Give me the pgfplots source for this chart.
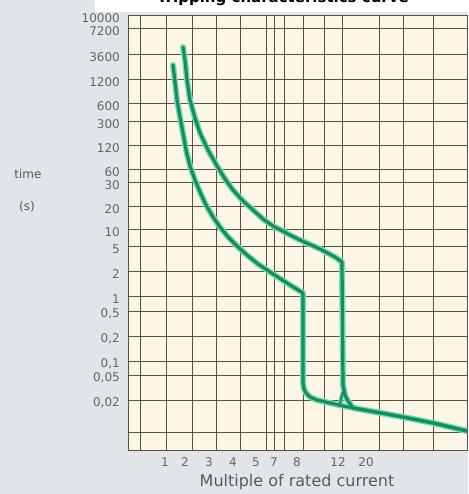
\documentclass[border=0pt]{standalone}
\usepackage{fontspec}
\setmainfont{DejaVu Sans}
\usepackage{pgfplots}
\usepackage{pgfplotstable}
\pgfplotsset{compat=1.18}
\definecolor{outerbg}{RGB}{226,229,232}
\definecolor{cream}{RGB}{251,246,230}
\definecolor{gridc}{RGB}{92,80,64}
\definecolor{curvec}{RGB}{22,140,95}
\definecolor{haloc}{RGB}{120,220,178}
\definecolor{labc}{RGB}{100,100,100}

\pgfplotstableread{
x y
173 429
175 412
177 394
180 377
183 361
186 344
190 328
195 314
200 302
206 289
213 277
220 267
228 257
238 247
248 238
258 230
270 222
290 209
303 201
303 111
304 105
306 101
310 97
317 94
330 91
343 88
370 83
403 77
433 71
467 63
}\curveA

\pgfplotstableread{
x y
183 447
185 434
187 414
190 394
195 376
200 361
208 344
217 328
225 315
233 304
243 293
253 284
263 275
273 268
290 259
300 254
320 245
335 237
342 232
343 109
345 99
348 93
353 86
370 83
403 77
433 71
467 63
}\curveB

\pgfplotstableread{
x y
343 102
341 95
340 90
}\curveC

\begin{document}
\begin{tikzpicture}
\fill[outerbg] (0pt,0pt) rectangle (468pt,494pt);
\useasboundingbox (0pt,0pt) rectangle (468pt,494pt);
\fill[black!10] (95pt,480pt) rectangle (468pt,482pt);
\fill[white] (95pt,482pt) rectangle (468pt,494pt);
\node[anchor=base, font=\fontsize{15}{18}\selectfont\bfseries] at (283pt,491pt) {Tripping characteristics curve};
\begin{axis}[
  at={(128pt,44pt)}, anchor=south west, scale only axis,
  width=339pt, height=434pt,
  xmin=128, xmax=467, ymin=44, ymax=478,
  axis background/.style={fill=cream},
  axis line style={draw=gridc, line width=1pt},
  xtick={140,166,192,216,240,266,274,284,303,324,342,379,403,433},
  xticklabels={{},{},{},{},{},{},{},{},{},{},{},{},{},{}},
  xmajorgrids, ymajorgrids,
  major grid style={draw=gridc, line width=1pt},
  major tick length=0pt,
  ytick={478,465,439,414,390,372,348,324,311,287,264,247,222,197,182,157,132,118,93,61},
  yticklabels={10000,7200,3600,1200,600,300,120,60,30,20,10,5,2,1,{0,5},{0,2},{0,1},{0,05},{0,02},{}},
  yticklabel style={anchor=east, inner sep=0pt, xshift=-8pt, yshift=-2pt, text=labc, font=\fontsize{12}{14}\selectfont},
  xticklabel style={anchor=north, inner sep=0pt, yshift=-7.5pt, text=labc, font=\fontsize{12}{14}\selectfont},
  extra x ticks={165,185,209,233,256,274,297,338,366},
  extra x tick labels={1,2,3,4,5,7,8,12,20},
  extra x tick style={grid=none, major tick length=0pt},
]
\addplot[haloc, line width=6pt, line join=round, line cap=round] table {\curveA};
\addplot[haloc, line width=6pt, line join=round, line cap=round] table {\curveB};
\addplot[haloc, line width=4.5pt, line join=round, line cap=round] table {\curveC};
\addplot[curvec, line width=3.2pt, line join=round, line cap=round] table {\curveA};
\addplot[curvec, line width=3.2pt, line join=round, line cap=round] table {\curveB};
\addplot[curvec, line width=2.2pt, line join=round, line cap=round] table {\curveC};
\end{axis}
\node[font=\fontsize{16}{19}\selectfont, text=black!65] at (297pt,12pt) {Multiple of rated current};
\node[font=\fontsize{12}{14}\selectfont, text=black!65] at (28pt,320pt) {time};
\node[font=\fontsize{12}{14}\selectfont, text=black!65] at (27pt,287pt) {(s)};
\end{tikzpicture}
\end{document}
